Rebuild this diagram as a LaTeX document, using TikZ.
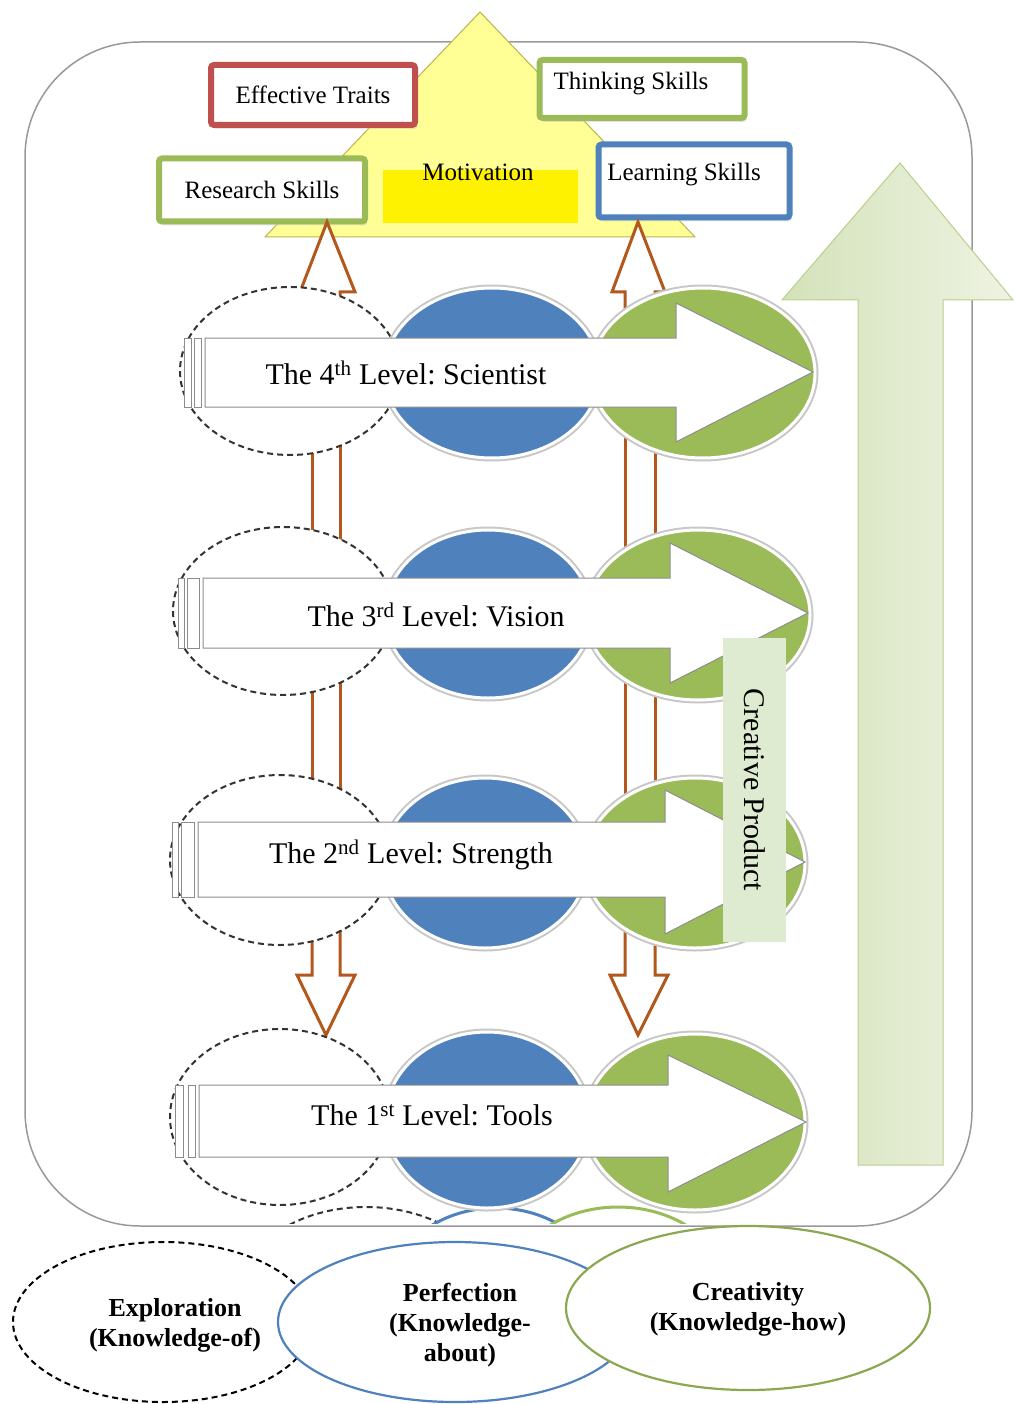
\documentclass[tikz,border=0pt]{standalone}
\usepackage{fontspec}
\setmainfont{Liberation Serif}
\usetikzlibrary{shapes.geometric}
\usetikzlibrary{shadows}
\frenchspacing
\definecolor{skillgreen}{RGB}{155,187,89}
\definecolor{skillblue}{RGB}{79,129,189}
\definecolor{skillred}{RGB}{192,80,77}
\definecolor{motyellow}{RGB}{255,255,150}
\definecolor{brownline}{RGB}{178,88,28}
\definecolor{palegreen}{RGB}{222,235,209}
\definecolor{arrowgreenA}{RGB}{212,226,186}
\definecolor{arrowgreenB}{RGB}{238,243,226}
\tikzset{skillbox/.style={draw,line width=6pt,fill=white,rounded corners=3pt,
                          inner sep=0pt,font=\fontsize{25}{28}\selectfont,
                          drop shadow={shadow xshift=2pt,shadow yshift=-4pt,fill=black!22}}}
\tikzset{levelarrow/.style={fill=white,draw=black!45,line width=1pt}}
\tikzset{leveltext/.style={font=\fontsize{30}{34}\selectfont}}
\tikzset{brownarrow/.style={draw=brownline,line width=3pt,fill=white,line join=miter}}
\tikzset{dashell/.style={fill=white,draw=black!80,line width=2pt,dash pattern=on 6pt off 4pt}}
\tikzset{blueell/.style={fill=skillblue,draw=white,line width=3pt,preaction={draw=black!22,line width=7pt}}}
\tikzset{greenell/.style={fill=skillgreen,draw=white,line width=3pt,preaction={draw=black!22,line width=7pt}}}
\tikzset{basetext/.style={font=\bfseries\fontsize{26}{30}\selectfont,align=center}}

\begin{document}
\begin{tikzpicture}[x=1pt,y=-1pt]
  \useasboundingbox (0,0) rectangle (1013,1404);

  % frame round the levels
  \draw[draw=black!40,line width=1.5pt,rounded corners=115pt] (25,42) rectangle (972,1226);

  % motivation triangle
  \draw[fill=motyellow,draw=olive!60,line width=1pt] (480,12) -- (695,237) -- (265,237) -- cycle;
  \fill[yellow] (383,170) rectangle (578,223);
  \node[font=\fontsize{25}{28}\selectfont] (motivation) at (478,172) {Motivation};

  % skill boxes
  \node[skillbox,draw=skillred,minimum width=204pt,minimum height=60pt] (traits) at (313,95) {Effective Traits};
  \node[skillbox,draw=skillgreen,minimum width=205pt,minimum height=58pt,text depth=17pt] (thinking) at (642,89) {Thinking Skills\hspace*{22pt}};
  \node[skillbox,draw=skillgreen,minimum width=206pt,minimum height=63pt] (research) at (262,190) {Research Skills};
  \node[skillbox,draw=skillblue,minimum width=191pt,minimum height=73pt,text depth=19pt] (learning) at (694,181) {Learning Skills\hspace*{20pt}};

  % big arrow: creative product grows upwards
  \draw[left color=arrowgreenA,right color=arrowgreenB,draw=skillgreen!70,line width=1pt]
    (858,1165) -- (858,300) -- (782,300) -- (900,163) -- (1013,300) -- (943,300) -- (943,1165) -- cycle;

  % brown block arrows between the levels
  \draw[brownarrow] (312,340) -- (312,292) -- (300,292) -- (327,222) -- (355,292) -- (340,292) -- (340,340);
  \draw[brownarrow] (625,340) -- (625,292) -- (612,292) -- (638,222) -- (665,292) -- (655,292) -- (655,340);
  \draw[brownarrow] (312,430) rectangle (340,560);
  \draw[brownarrow] (625,420) rectangle (655,560);
  \draw[brownarrow] (312,670) rectangle (340,800);
  \draw[brownarrow] (625,665) rectangle (655,810);
  \draw[brownarrow] (312,900) -- (312,975) -- (297,975) -- (326,1035) -- (355,975) -- (340,975) -- (340,900);
  \draw[brownarrow] (625,900) -- (625,975) -- (610,975) -- (638,1035) -- (668,975) -- (655,975) -- (655,900);

  % ellipses peeking out below the frame
  \begin{scope}
    \clip (25,1195) rectangle (972,1223);
    \draw[dashell] (366,1292) ellipse (125 and 85);
    \draw[fill=white,draw=skillblue,line width=3pt] (496,1293) ellipse (106 and 85);
    \draw[fill=white,draw=skillgreen,line width=3pt] (618,1292) ellipse (110 and 85);
  \end{scope}

  % The 4th level
  \draw[dashell]  (290,371) ellipse (110 and 84);
  \draw[blueell]  (492,373) ellipse (108 and 85);
  \draw[greenell] (703,373) ellipse (112 and 85);
  \draw[levelarrow] (184,338) rectangle (191,407);
  \draw[levelarrow] (194,338) rectangle (201,407);
  \draw[levelarrow] (205,338) -- (676,338) -- (676,303) -- (813,372) -- (676,442) -- (676,407) -- (205,407) -- cycle;
  \node[leveltext] (level4) at (406,373) {The 4\textsuperscript{th} Level: Scientist};

  % The 3rd level
  \draw[dashell]  (283,611) ellipse (110 and 84);
  \draw[blueell]  (488,614) ellipse (103 and 84);
  \draw[greenell] (698,615) ellipse (112 and 85);
  \draw[levelarrow] (178,578) rectangle (184,648);
  \draw[levelarrow] (187,578) rectangle (199,648);
  \draw[levelarrow] (203,578) -- (670,578) -- (670,543) -- (808,613) -- (670,683) -- (670,648) -- (203,648) -- cycle;
  \node[leveltext] (level3) at (436,615) {The 3\textsuperscript{rd} Level: Vision};

  % The 2nd level
  \draw[dashell]  (280,860) ellipse (110 and 85);
  \draw[blueell]  (485,863) ellipse (102 and 85);
  \draw[greenell] (695,863) ellipse (110 and 85);
  \draw[levelarrow] (172,822) rectangle (178,897);
  \draw[levelarrow] (181,822) rectangle (194,897);
  \draw[levelarrow] (198,822) -- (665,822) -- (665,790) -- (805,862) -- (665,934) -- (665,897) -- (198,897) -- cycle;
  \node[leveltext] (level2) at (411,855) {The 2\textsuperscript{nd} Level: Strength};

  % The 1st level
  \draw[dashell]  (280,1117) ellipse (110 and 88);
  \draw[blueell]  (487,1120) ellipse (102 and 88);
  \draw[greenell] (695,1122) ellipse (110 and 88);
  \draw[levelarrow] (175,1085) rectangle (183,1157);
  \draw[levelarrow] (188,1085) rectangle (195,1157);
  \draw[levelarrow] (199,1085) -- (668,1085) -- (668,1055) -- (806,1122) -- (668,1192) -- (668,1157) -- (199,1157) -- cycle;
  \node[leveltext] (level1) at (432,1115) {The 1\textsuperscript{st} Level: Tools};

  % label on the big arrow
  \node[fill=palegreen,rotate=-90,minimum width=304pt,minimum height=63pt,inner sep=0pt,
        font=\fontsize{30}{34}\selectfont] (product) at (754.5,790) {Creative Product};

  % the three kinds of knowledge
  \draw[dashell,draw=black] (163,1322) ellipse (150 and 80);
  \draw[fill=white,draw=skillblue,line width=2.2pt] (455,1322) ellipse (177 and 80);
  \draw[fill=white,draw=skillgreen!90!black,line width=2.2pt] (748,1308) ellipse (182 and 82);
  \node[basetext] (exploration) at (175,1325) {Exploration\\(Knowledge-of)};
  \node[basetext] (perfection) at (460,1325) {Perfection\\(Knowledge-\\about)};
  \node[basetext] (creativity) at (748,1309) {Creativity\\(Knowledge-how)};
\end{tikzpicture}
\end{document}
